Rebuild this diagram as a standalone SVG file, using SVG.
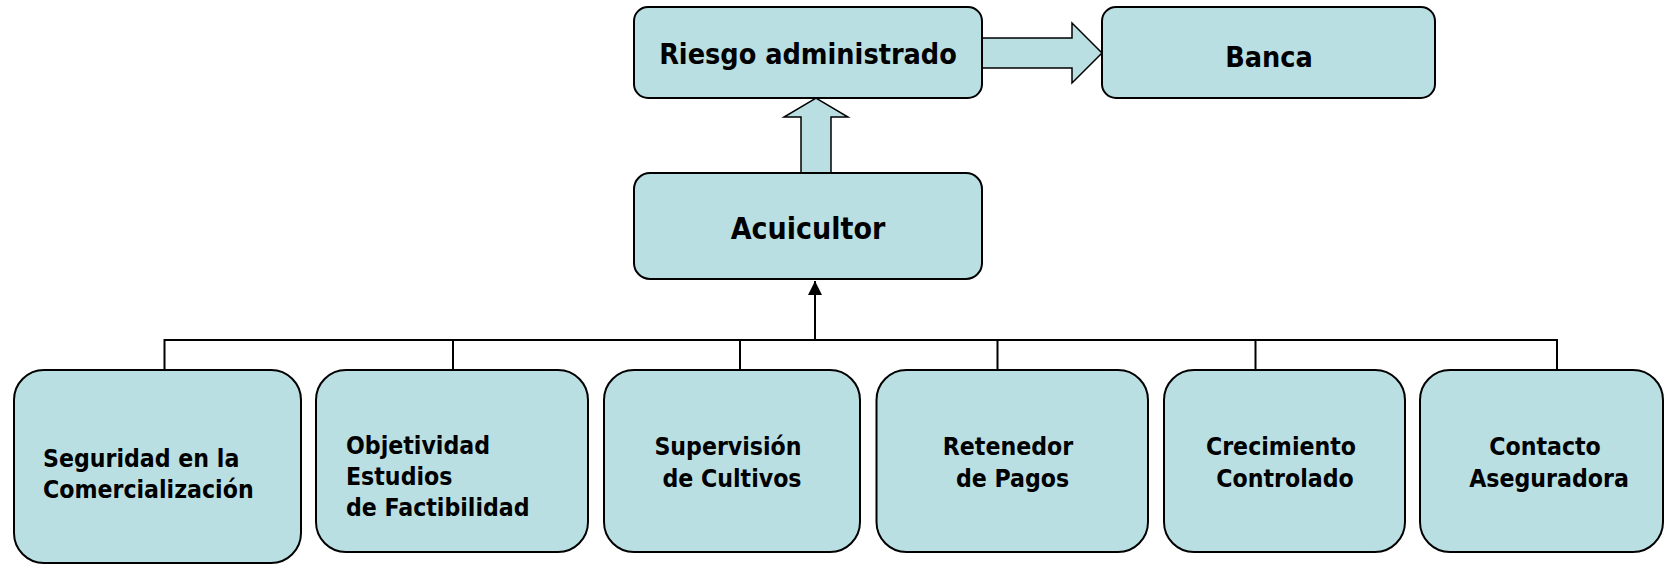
<svg xmlns="http://www.w3.org/2000/svg" width="1664" height="564" viewBox="0 0 1664 564">
<style>
.box{fill:#BADFE2;stroke:#000;stroke-width:2}
.blk{fill:#BADFE2;stroke:#000;stroke-width:1.5}
.ln{fill:none;stroke:#000;stroke-width:2}
text{font-family:"DejaVu Sans Condensed","DejaVu Sans",sans-serif;font-weight:bold;fill:#000}
.big{font-size:28.5px;text-anchor:middle}
.sm{font-size:24.6px}
.c{text-anchor:middle}
</style>
<defs>
<marker id="ah" viewBox="0 0 14 14" refX="14" refY="7" markerWidth="14" markerHeight="14" markerUnits="userSpaceOnUse" orient="auto">
<path d="M0,0 L14,7 L0,14 Z" fill="#000"/>
</marker>
</defs>
<rect width="1664" height="564" fill="#fff"/>
<g id="connectors">
<path class="ln" d="M164.5,340 H1557 M164.5,339 V370 M453,340 V370 M740,340 V370 M997.5,340 V370 M1255.5,340 V370 M1557,339 V370"/>
<line class="ln" x1="815" y1="340" x2="815" y2="281" marker-end="url(#ah)"/>
<path class="blk" d="M801,173 V117 H784 L816,98 L848,117 H831 V173 Z"/>
<path class="blk" d="M982,38 H1072 V23 L1102,53 L1072,83 V68 H982 Z"/>
</g>
<g id="riesgo">
<rect class="box" x="634" y="7" width="348" height="91" rx="14"/>
<text class="big" x="808" y="64">Riesgo administrado</text>
</g>
<g id="banca">
<rect class="box" x="1102" y="7" width="333" height="91" rx="14"/>
<text class="big" x="1269" y="67">Banca</text>
</g>
<g id="acuicultor">
<rect class="box" x="634" y="173" width="348" height="106" rx="16"/>
<text class="big" x="808" y="239" style="font-size:30px">Acuicultor</text>
</g>
<g id="seguridad">
<rect class="box" x="14" y="370" width="287" height="193" rx="30"/>
<text class="sm" x="43" y="467">Seguridad en la</text>
<text class="sm" x="43" y="498">Comercialización</text>
</g>
<g id="objetividad">
<rect class="box" x="316" y="370" width="272" height="182" rx="30"/>
<text class="sm" x="346" y="454">Objetividad</text>
<text class="sm" x="346" y="485">Estudios</text>
<text class="sm" x="346" y="516">de Factibilidad</text>
</g>
<g id="supervision">
<rect class="box" x="604" y="370" width="256" height="182" rx="30"/>
<text class="sm c" x="728" y="455">Supervisión</text>
<text class="sm c" x="732" y="487">de Cultivos</text>
</g>
<g id="retenedor">
<rect class="box" x="876.5" y="370" width="271.5" height="182" rx="30"/>
<text class="sm c" x="1008" y="455">Retenedor</text>
<text class="sm c" x="1012.5" y="487">de Pagos</text>
</g>
<g id="crecimiento">
<rect class="box" x="1164" y="370" width="241" height="182" rx="30"/>
<text class="sm c" x="1281" y="455">Crecimiento</text>
<text class="sm c" x="1285" y="487">Controlado</text>
</g>
<g id="contacto">
<rect class="box" x="1420" y="370" width="243" height="182" rx="30"/>
<text class="sm c" x="1545" y="455">Contacto</text>
<text class="sm c" x="1549" y="487">Aseguradora</text>
</g>
</svg>
